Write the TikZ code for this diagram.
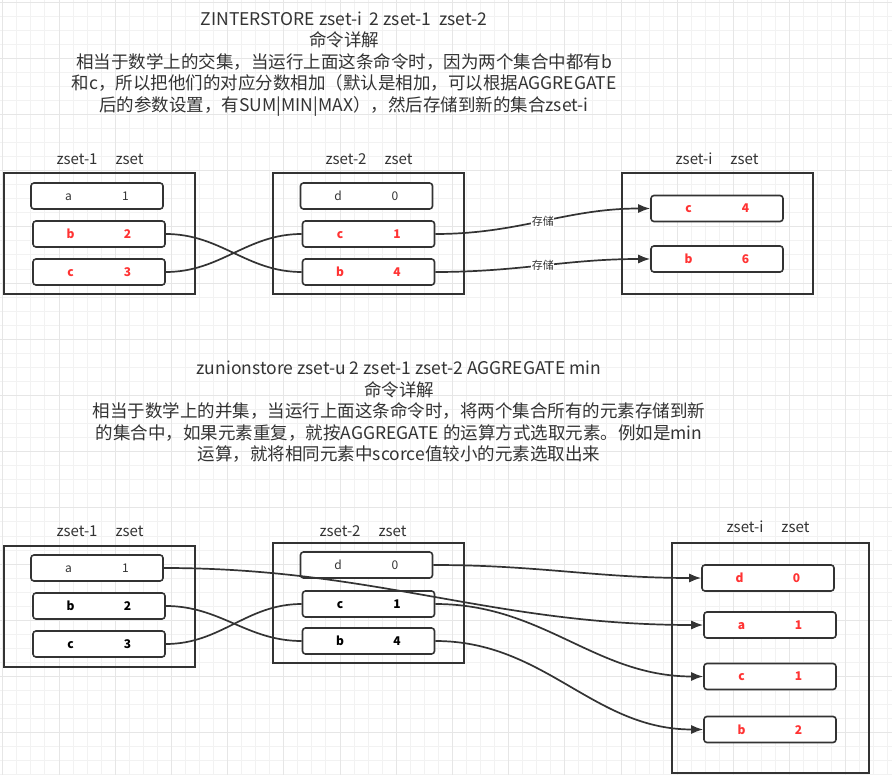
\documentclass[tikz,border=0pt]{standalone}
\usepackage{fontspec}
\setmainfont{Noto Sans CJK SC}
\usetikzlibrary{arrows.meta}

\definecolor{lineGray}{HTML}{333333}
\definecolor{hotRed}{HTML}{FF3333}
\definecolor{gridMinor}{HTML}{F2F2F2}
\definecolor{gridMajor}{HTML}{E6E6E6}

\tikzset{
    setbox/.style={draw=lineGray,line width=1.8pt,minimum width=191pt,minimum height=121pt,inner sep=0pt},
    rowbox/.style={draw=lineGray,line width=1.6pt,rounded corners=3pt,fill=white,minimum width=132pt,minimum height=26pt,inner sep=0pt},
    keyplain/.style={text=lineGray,font=\fontsize{12}{14}\selectfont},
    keyhot/.style={text=hotRed,font=\fontsize{12}{14}\selectfont\bfseries},
    keybold/.style={text=black,font=\fontsize{12}{14}\selectfont\bfseries},
    setname/.style={text=lineGray,font=\fontsize{15}{17}\selectfont},
    bodytext/.style={text=lineGray,align=center,font=\fontsize{17.5}{21.5}\selectfont},
    link/.style={draw=lineGray,line width=1.7pt,out=0,in=180},
    store/.style={link,-{Latex[length=12pt,width=9pt]}},
    storelabel/.style={fill=white,inner sep=0.5pt,text=lineGray,font=\fontsize{11}{12}\selectfont},
}

\begin{document}
\begin{tikzpicture}[x=1pt,y=-1pt]
\useasboundingbox[fill=white] (0,0) rectangle (892,775);

% grid
\foreach \g in {0,...,63}
{
    \draw[gridMinor,line width=0.8pt] ({2.7+14.05*\g},0) -- ({2.7+14.05*\g},775);
};
\foreach \g in {0,...,55}
{
    \draw[gridMinor,line width=0.8pt] (0,{2+14.05*\g}) -- (892,{2+14.05*\g});
};
\foreach \g in {0,...,15}
{
    \draw[gridMajor,line width=0.8pt] ({2.7+56.2*\g},0) -- ({2.7+56.2*\g},775);
};
\foreach \g in {0,...,13}
{
    \draw[gridMajor,line width=0.8pt] (0,{2+56.2*\g}) -- (892,{2+56.2*\g});
};

% ZINTERSTORE
\node[bodytext] (tNote) at (344,64) {ZINTERSTORE zset-i\ \ 2 zset-1\ \ zset-2\\
    命令详解\\
    相当于数学上的交集，当运行上面这条命令时，因为两个集合中都有b\\
    和c，所以把他们的对应分数相加（默认是相加，可以根据AGGREGATE\\
    后的参数设置，有SUM|MIN|MAX），然后存储到新的集合zset-i};

\node[setbox] (tSet1) at (99.5,233.5) {};
\node[setbox] (tSet2) at (368.5,233.5) {};
\node[setbox] (tSetI) at (717.5,233.5) {};
\node[setname] (tName1) at (100,159) {zset-1\hspace{18pt}zset};
\node[setname] (tName2) at (369,159) {zset-2\hspace{18pt}zset};
\node[setname] (tNameI) at (717,159) {zset-i\hspace{18pt}zset};

\foreach \n/\x/\y/\k/\s/\st in
{tSet1a/97/196/a/1/keyplain,
    tSet1b/99/234/b/2/keyhot,
    tSet1c/99/272/c/3/keyhot,
    tSet2d/366.5/196/d/0/keyplain,
    tSet2c/368.5/234/c/1/keyhot,
    tSet2b/368.5/272/b/4/keyhot,
    tSetIc/717/208.5/c/4/keyhot,
    tSetIb/717/259/b/6/keyhot}
{
    \node[rowbox,\st] (\n) at (\x,\y) {\makebox[20pt]{\k}\hspace{37pt}\makebox[20pt]{\s}};
};

\draw[link] (tSet1b.east) to (tSet2b.west);
\draw[link] (tSet1c.east) to (tSet2c.west);
\draw[store] (tSet2c.east) to node[storelabel]{存储} (tSetIc.west);
\draw[store] (tSet2b.east) to node[storelabel]{存储} (tSetIb.west);

% zunionstore
\node[bodytext] (uNote) at (399,412) {zunionstore zset-u 2 zset-1 zset-2 AGGREGATE min\\
    命令详解\\
    相当于数学上的并集，当运行上面这条命令时，将两个集合所有的元素存储到新\\
    的集合中，如果元素重复，就按AGGREGATE 的运算方式选取元素。例如是min\\
    运算，就将相同元素中scorce值较小的元素选取出来};

\node[setbox] (uSet1) at (99.5,606.5) {};
\node[setbox,minimum height=120pt] (uSet2) at (368.5,603) {};
\node[setbox,minimum width=197pt,minimum height=230pt] (uSetI) at (770.5,658) {};
\node[setname] (uName1) at (100,531) {zset-1\hspace{18pt}zset};
\node[setname] (uName2) at (363,531) {zset-2\hspace{18pt}zset};
\node[setname] (uNameI) at (768,527) {zset-i\hspace{18pt}zset};

\foreach \n/\x/\y/\k/\s/\st in
{uSet1a/97/568/a/1/keyplain,
    uSet1b/99/606/b/2/keybold,
    uSet1c/99/644/c/3/keybold,
    uSet2d/366.5/565/d/0/keyplain,
    uSet2c/368.5/604/c/1/keybold,
    uSet2b/368.5/641/b/4/keybold,
    uSetId/768/578/d/0/keyhot,
    uSetIa/770/625/a/1/keyhot,
    uSetIc/770/676.5/c/1/keyhot,
    uSetIb/770/729.5/b/2/keyhot}
{
    \node[rowbox,\st] (\n) at (\x,\y) {\makebox[20pt]{\k}\hspace{37pt}\makebox[20pt]{\s}};
};

\draw[link] (uSet1b.east) to (uSet2b.west);
\draw[link] (uSet1c.east) to (uSet2c.west);
\draw[store] (uSet2d.east) to (uSetId.west);
\draw[store] (uSet1a.east) to (uSetIa.west);
\draw[store] (uSet2c.east) to (uSetIc.west);
\draw[store] (uSet2b.east) to (uSetIb.west);

\end{tikzpicture}
\end{document}
